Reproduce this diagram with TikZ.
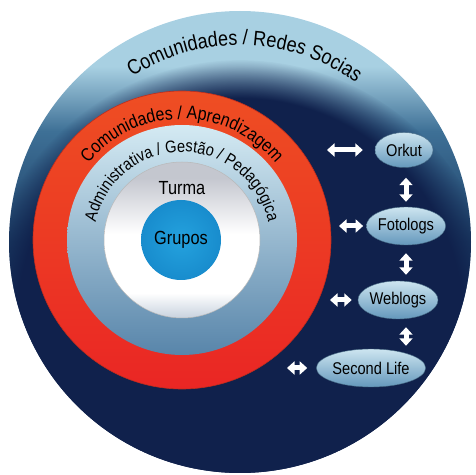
\documentclass[tikz,border=0pt]{standalone}
\usepackage{fontspec}
\setmainfont[FakeStretch=0.86]{Liberation Sans}
\usetikzlibrary{arrows.meta,decorations.text,fadings,shapes.geometric,calc}
\definecolor{navy}{RGB}{16,33,76}
\definecolor{rimdark}{RGB}{28,62,102}
\definecolor{rimmid}{RGB}{62,112,150}
\definecolor{rimlight}{RGB}{168,208,226}
\definecolor{redtop}{RGB}{238,78,35}
\definecolor{redmid}{RGB}{242,102,34}
\definecolor{redbot}{RGB}{234,38,36}
\definecolor{lbtop}{RGB}{212,234,243}
\definecolor{lbbot}{RGB}{88,133,170}
\definecolor{wtop}{RGB}{196,199,207}
\definecolor{wbot}{RGB}{200,210,222}
\definecolor{gin}{RGB}{36,162,222}
\definecolor{gout}{RGB}{24,140,205}
\definecolor{elltop}{RGB}{205,229,240}
\definecolor{ellbot}{RGB}{100,152,188}
\pgfdeclareverticalshading{rimshade}{100bp}{color(0bp)=(navy); color(25bp)=(navy); color(50bp)=(rimdark); color(62bp)=(rimmid); color(69bp)=(rimlight); color(75bp)=(rimlight); color(100bp)=(rimlight)}
\pgfdeclareverticalshading{wshade}{100bp}{color(0bp)=(wbot); color(25bp)=(wbot); color(33bp)=(white); color(52bp)=(white); color(70bp)=(wtop); color(75bp)=(wtop); color(100bp)=(wtop)}
\tikzset{
  ell/.style={ellipse, inner sep=0pt, top color=elltop, bottom color=ellbot,
    draw=ellbot!70!black, line width=0.4pt, text=black, font=\fontsize{17}{17}\selectfont},
  dbl/.style={white, line width=5pt, {Triangle[length=7.5pt,width=13pt]}-{Triangle[length=7.5pt,width=13pt]}},
  lbl/.style={text=black, font=\fontsize{19}{19}\selectfont, inner sep=0pt}
}
\begin{document}
\begin{tikzpicture}[x=1pt,y=1pt]
\useasboundingbox (0,0) rectangle (475,475);
% outer ring
\shade[shading=rimshade] (240,233) circle (231);
\begin{scope}
  \clip (240,233) circle (231);
  \fill[navy, path fading=circle with fuzzy edge 15 percent] (240,155) circle (260);
\end{scope}
\path[decorate, decoration={text along path, text align=center,
  text={|\fontsize{21}{21}\selectfont\color{black}|Comunidades / Redes Socias}}]
  ($(240,233)+(168.5:197)$) arc[start angle=168.5, end angle=8.5, radius=197];
% red ring
\shade[top color=redtop, middle color=redmid, bottom color=redbot, draw={rgb,255:red,190;green,45;blue,30}, line width=0.6pt] (182,235) circle (149);
\path[decorate, decoration={text along path, text align=center,
  text={|\fontsize{18.5}{18.5}\selectfont\color{black}|Comunidades / Aprendizagem}}]
  ($(182,235)+(175:121)$) arc[start angle=175, end angle=5, radius=121];
% light blue ring
\shade[top color=lbtop, bottom color=lbbot] (182,235) circle (115);
\path[decorate, decoration={text along path, text align=center,
  text={|\fontsize{17}{17}\selectfont\color{black}|Administrativa / Gestão / Pedagógica}}]
  ($(182,235)+(190:88)$) arc[start angle=190, end angle=-10, radius=88];
% white disc
\shade[shading=wshade] (182,235) circle (78);
\draw[gray!55, line width=0.5pt] (182,235) circle (78);
\node[lbl] (turma) at (182,287) {Turma};
\node[circle, minimum size=80pt, inner sep=0pt, inner color=gin, outer color=gout, lbl] (grupos) at (181,235) {Grupos};
% right column
\node[ell, minimum width=58pt, minimum height=35pt] (ork) at (404,325) {Orkut};
\node[ell, minimum width=74pt, minimum height=38pt] (foto) at (406,249) {Fotologs};
\node[ell, minimum width=70pt, minimum height=38pt] (web) at (398,175) {Weblogs};
\node[ell, minimum width=98pt, minimum height=38pt] (sl) at (371,107) {Second Life};
\coordinate (oL) at (327,325);
\coordinate (fL) at (339,249);
\coordinate (wL) at (330,175);
\coordinate (sL) at (287,107);
\draw[dbl] (oL) -- ([xshift=-12pt]ork.west);
\draw[dbl] (fL) -- ([xshift=-3pt]foto.west);
\draw[dbl] (wL) -- ([xshift=-6pt]web.west);
\draw[dbl] (sL) -- ([xshift=-9pt]sl.west);
\draw[dbl, shorten <=10pt, shorten >=5pt] (foto.center |- ork.south) -- (foto.north);
\draw[dbl, shorten <=8pt, shorten >=6pt] (foto.south) -- (foto.center |- web.north);
\draw[dbl, shorten <=8pt, shorten >=3pt] (foto.center |- web.south) -- (foto.center |- sl.north);
\end{tikzpicture}
\end{document}
